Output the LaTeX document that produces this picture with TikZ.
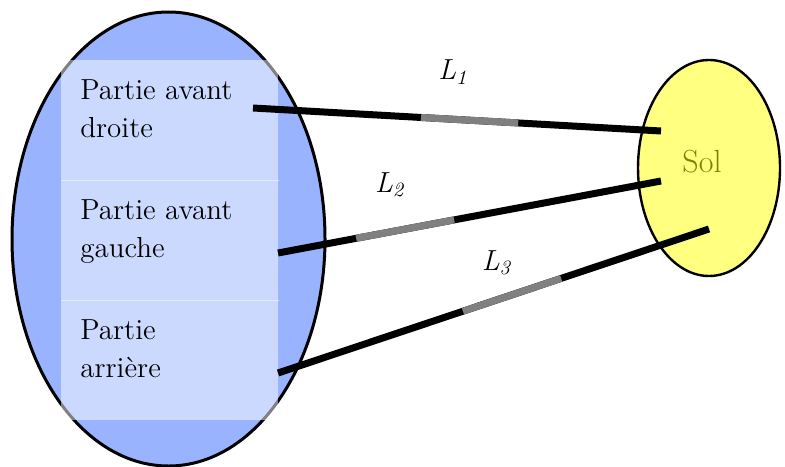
\documentclass[tikz,border=0pt]{standalone}
\usetikzlibrary{shapes.geometric,calc}
\definecolor{bodyblue}{HTML}{99B3FF}
\definecolor{solyellow}{HTML}{FFFF80}
\definecolor{sololive}{HTML}{808000}
\definecolor{divider}{HTML}{E2EAFF}
\definecolor{midgray}{HTML}{808080}
\begin{document}
\tikzset{
  bigfont/.style={font=\rmfamily\fontsize{14.5}{19}\selectfont},
  cellbox/.style={rectangle, draw=none, fill=white, fill opacity=0.5, inner sep=0pt,
    minimum width=108.5pt, minimum height=60pt, anchor=north west},
  celltext/.style={bigfont, align=left, inner sep=0pt, anchor=base west},
  wire/.style={line width=3.5pt, line cap=butt, black},
  graywire/.style={line width=3.5pt, line cap=butt, midgray},
  lab/.style={bigfont, inner sep=0pt}
}
\begin{tikzpicture}[x=0.5pt,y=-0.5pt]
\useasboundingbox (0,0) rectangle (785,466);
% body ellipse
\node[ellipse, draw=black, line width=1.5pt, fill=bodyblue, inner sep=0pt,
  minimum width=156.5pt, minimum height=227pt] (body) at (168.5,239) {};
% cells
\node[cellbox] (c1) at (61,60) {};
\node[cellbox] (c2) at (61,180) {};
\node[cellbox] (c3) at (61,300) {};
\draw[divider, line width=0.6pt] (c1.south west) -- (c1.south east);
\draw[divider, line width=0.6pt] (c2.south west) -- (c2.south east);
\node[celltext] (t1) at (80,137) {Partie avant\\droite};
\node[celltext] (t2) at (80,257) {Partie avant\\gauche};
\node[celltext] (t3) at (80,377) {Partie\\arrière};
% sol
\node[ellipse, draw=black, line width=1.2pt, fill=solyellow, inner sep=0pt,
  minimum width=71pt, minimum height=108pt] (sol) at (709,168) {};
\node[font=\rmfamily\fontsize{16}{19}\selectfont, text=sololive, inner sep=0pt] (soltxt) at (702,162) {Sol};
% line endpoints
\coordinate (s1) at (253,108);
\coordinate (e1) at (661,131);
\coordinate (s2) at (278,253);
\coordinate (e2) at (661,181);
\coordinate (s3) at (278,373);
\coordinate (e3) at (709,229);
\draw[wire] (s1) -- (e1);
\draw[wire] (s2) -- (e2);
\draw[wire] (s3) -- (e3);
\draw[graywire] ($(s1)!0.412!(e1)$) -- ($(s1)!0.650!(e1)$);
\draw[graywire] ($(s2)!0.204!(e2)$) -- ($(s2)!0.460!(e2)$);
\draw[graywire] ($(s3)!0.429!(e3)$) -- ($(s3)!0.657!(e3)$);
% labels
\node[lab] (l1) at (453,72) {\textit{L}\textsubscript{\textit{1}}};
\node[lab] (l2) at (390,185) {\textit{L}\textsubscript{\textit{2}}};
\node[lab] (l3) at (497,263) {\textit{L}\textsubscript{\textit{3}}};
\end{tikzpicture}
\end{document}
